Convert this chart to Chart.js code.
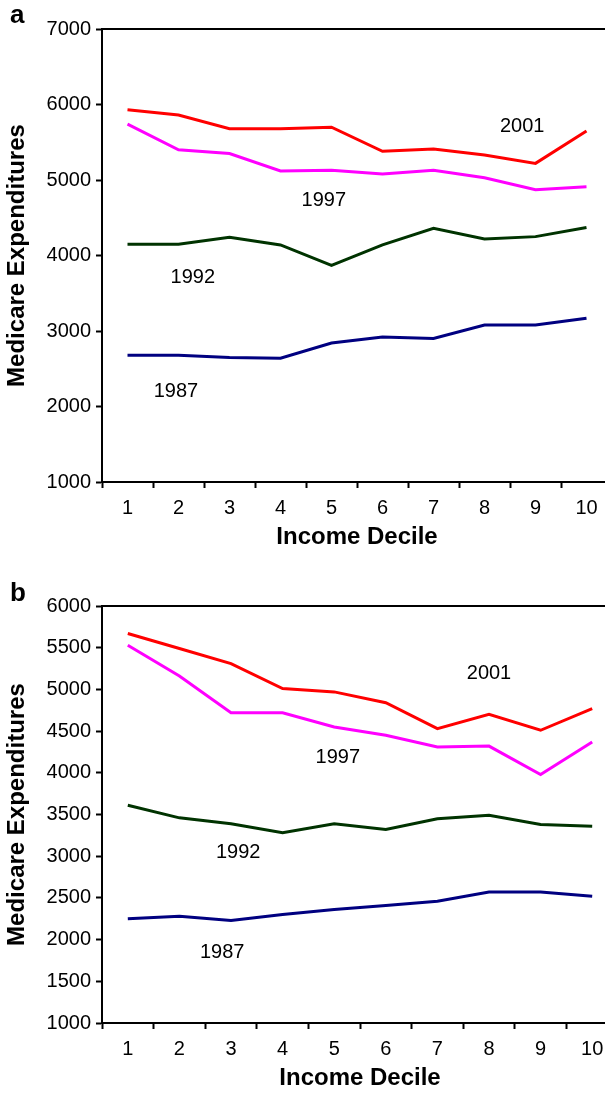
<!DOCTYPE html>
<html>
<head>
<meta charset="utf-8">
<script src="https://cdn.jsdelivr.net/npm/chart.js@4"></script>
<style>
  body { margin: 0; background: #fff; overflow: hidden; }
  #page { position: relative; width: 605px; height: 1093px; overflow: hidden; }
  canvas { position: absolute; left: 0; }
  .panel { position: absolute; font: bold 26px "Liberation Sans", Arial, sans-serif; line-height: 26px; color: #000; }
</style>
</head>
<body>
<div id="page">
  <canvas id="chartA" width="620" height="560" style="top:0"></canvas>
  <canvas id="chartB" width="626" height="533" style="top:560px"></canvas>
  <div class="panel" style="left:10px;top:1px">a</div>
  <div class="panel" style="left:10px;top:579px">b</div>
</div>
<script>
// --- Data ---
const deciles = ['1', '2', '3', '4', '5', '6', '7', '8', '9', '10'];
const years = ['2001', '1997', '1992', '1987'];
const lineColors = ['#ff0000', '#ff00ff', '#003300', '#000080'];

// Panel a
const a2001 = [5930, 5860, 5680, 5680, 5700, 5380, 5410, 5330, 5220, 5650];
const a1997 = [5740, 5400, 5350, 5120, 5130, 5080, 5130, 5030, 4870, 4910];
const a1992 = [4150, 4150, 4240, 4140, 3870, 4140, 4360, 4220, 4250, 4370];
const a1987 = [2680, 2680, 2650, 2640, 2840, 2920, 2900, 3080, 3080, 3170];

// Panel b
const b2001 = [5670, 5490, 5310, 5010, 4970, 4840, 4530, 4700, 4510, 4770];
const b1997 = [5530, 5160, 4720, 4720, 4550, 4450, 4310, 4320, 3980, 4370];
const b1992 = [3610, 3460, 3390, 3280, 3390, 3320, 3450, 3490, 3380, 3360];
const b1987 = [2250, 2280, 2230, 2300, 2360, 2410, 2460, 2570, 2570, 2520];

// where the year labels sit, as [decile index, expenditure]
const labelSpotsA = [[7.74, 5715], [3.85, 4735], [1.28, 3715], [0.95, 2205]];
const labelSpotsB = [[7.0, 5193], [4.07, 4186], [2.14, 3047], [1.83, 1848]];

const FONT = '"Liberation Sans", Arial, sans-serif';

// year labels inside the plot + the top frame line
const yearLabels = {
    id: 'yearLabels',
    afterDatasetsDraw(chart, args, opts) {
        const { ctx, chartArea, scales: { x, y } } = chart;
        ctx.save();
        ctx.strokeStyle = '#000';
        ctx.lineWidth = 2;
        ctx.beginPath();
        ctx.moveTo(chartArea.left, chartArea.top);
        ctx.lineTo(chartArea.right, chartArea.top);
        ctx.stroke();

        ctx.font = '20px ' + FONT;
        ctx.fillStyle = '#000';
        ctx.textAlign = 'center';
        ctx.textBaseline = 'middle';
        opts.spots.forEach((s, i) => {
            ctx.fillText(years[i], x.getPixelForValue(s[0]), y.getPixelForValue(s[1]));
        });
        ctx.restore();
    }
};

function makeDatasets(series) {
    return series.map((data, i) => ({
        label: years[i],
        data,
        borderColor: lineColors[i],
        backgroundColor: lineColors[i],
        borderWidth: 3,
        pointRadius: 0,
        tension: 0
    }));
}

function renderPanel(canvasId, series, yMin, yMax, step, spots, pad, xHeight, titlePad) {
    const ctx = document.getElementById(canvasId).getContext('2d');
    return new Chart(ctx, {
        type: 'line',
        data: { labels: deciles, datasets: makeDatasets(series) },
        plugins: [yearLabels],
        options: {
            responsive: false,
            animation: false,
            devicePixelRatio: 1,
            layout: { padding: pad },
            plugins: {
                legend: { display: false },
                tooltip: { enabled: false },
                yearLabels: { spots }
            },
            scales: {
                x: {
                    type: 'category',
                    offset: true,
                    afterFit: scale => { scale.height = xHeight; },
                    grid: {
                        offset: true,
                        drawOnChartArea: false,
                        drawTicks: true,
                        tickLength: 6,
                        tickWidth: 2,
                        color: '#000'
                    },
                    border: { color: '#000', width: 2 },
                    ticks: {
                        color: '#000',
                        font: { family: FONT, size: 20 },
                        padding: 8,
                        maxRotation: 0,
                        autoSkip: false
                    },
                    title: {
                        display: true,
                        text: 'Income Decile',
                        color: '#000',
                        font: { family: FONT, size: 24, weight: 'bold' },
                        padding: { top: 0, bottom: titlePad }
                    }
                },
                y: {
                    min: yMin,
                    max: yMax,
                    afterFit: scale => { scale.width = 102; },
                    grid: {
                        drawOnChartArea: false,
                        drawTicks: true,
                        tickLength: 6,
                        tickWidth: 2,
                        color: '#000'
                    },
                    border: { color: '#000', width: 2 },
                    ticks: {
                        stepSize: step,
                        color: '#000',
                        font: { family: FONT, size: 20 },
                        padding: 5,
                        callback: v => String(v)
                    },
                    title: {
                        display: true,
                        text: 'Medicare Expenditures',
                        color: '#000',
                        font: { family: FONT, size: 24, weight: 'bold' },
                        padding: { top: 3, bottom: 0 }
                    }
                }
            }
        }
    });
}

renderPanel('chartA', [a2001, a1997, a1992, a1987], 1000, 7000, 1000, labelSpotsA,
    { left: 0, right: 8, top: 29, bottom: 0 }, 78, 8);
renderPanel('chartB', [b2001, b1997, b1992, b1987], 1000, 6000, 500, labelSpotsB,
    { left: 0, right: 8, top: 46, bottom: 0 }, 70, 0);
</script>
</body>
</html>
